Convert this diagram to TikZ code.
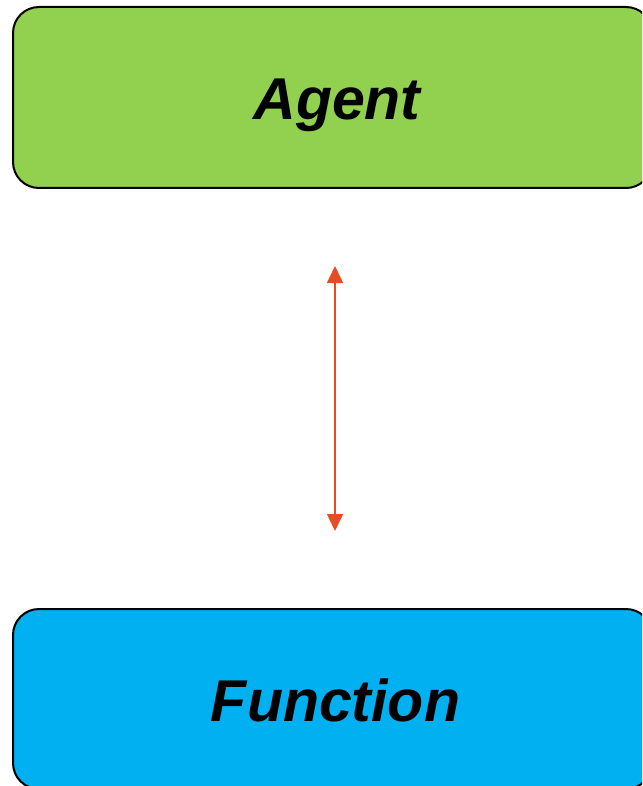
\documentclass[tikz,border=0pt]{standalone}
\usepackage{fontspec}
\setmainfont{Liberation Sans}
\usetikzlibrary{arrows.meta}
\definecolor{agentgreen}{HTML}{92D050}
\definecolor{funcblue}{HTML}{00B0F0}
\definecolor{arrowred}{HTML}{E84C22}
\begin{document}
\begin{tikzpicture}[x=1pt,y=-1pt,
  boxstyle/.style={draw=black,line width=2pt,rounded corners=26pt,inner sep=0pt},
  labelstyle/.style={font=\fontsize{59}{61}\selectfont\bfseries\itshape,inner sep=0pt,anchor=base},
  linkstyle/.style={draw=arrowred,line width=1.5pt,{Triangle[width=16pt,length=17pt]}-{Triangle[width=16pt,length=17pt]}}]
\useasboundingbox (0,0) rectangle (642,786);
\begin{scope}
\clip (0,0) rectangle (642,786);
\node[boxstyle,fill=agentgreen,minimum width=639pt,minimum height=181pt] (agent) at (332.5,97.5) {};
\node[boxstyle,fill=funcblue,minimum width=639pt,minimum height=180pt] (function) at (332.5,699) {};
\end{scope}
\node[labelstyle] (agenttext) at (337,119.5) {Agent};
\node[labelstyle] (functiontext) at (335.5,721.7) {Function};
\coordinate (atop) at (335,266);
\coordinate (abot) at (335,531);
\draw[linkstyle] (atop) -- (abot);
\end{tikzpicture}
\end{document}
